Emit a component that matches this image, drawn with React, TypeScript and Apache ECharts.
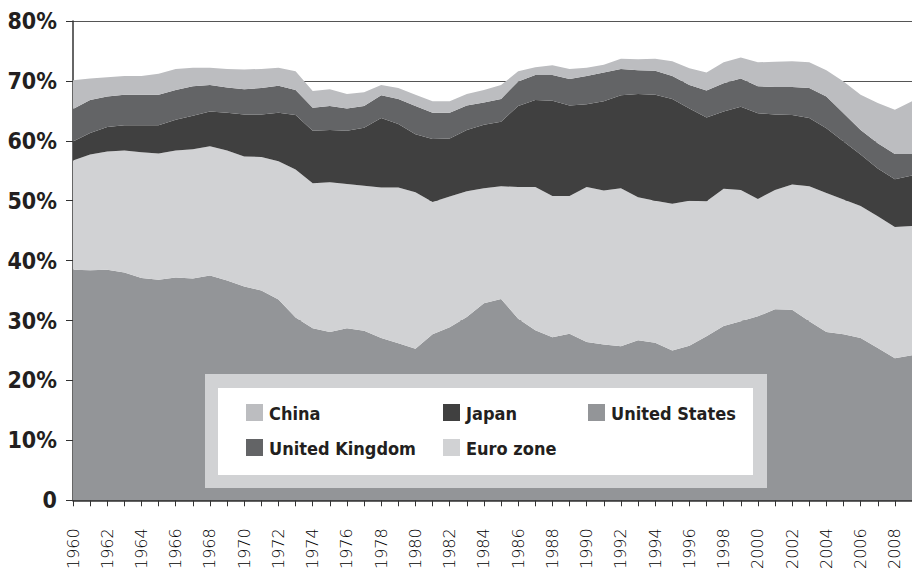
import React, { useEffect, useRef } from "react";
import * as echarts from "echarts";

const years: string[] = [];
for (let y = 1960; y <= 2009; y++) years.push(String(y));

const seriesNames = ["United States", "Euro zone", "Japan", "United Kingdom", "China"];
const seriesColors = ["#939598", "#d1d2d4", "#404040", "#636466", "#bcbdc0"];

const unitedStates = [
  38.5, 38.4, 38.5, 38.0, 37.1, 36.8, 37.2, 37.0, 37.5, 36.7,
  35.7, 35.0, 33.5, 30.5, 28.7, 28.1, 28.7, 28.3, 27.1, 26.2,
  25.3, 27.7, 28.9, 30.6, 32.9, 33.6, 30.3, 28.4, 27.2, 27.8,
  26.4, 26.0, 25.7, 26.7, 26.3, 25.0, 25.8, 27.4, 29.1, 29.9,
  30.7, 31.9, 31.8, 29.9, 28.1, 27.7, 27.1, 25.4, 23.7, 24.2,
];
const euroZone = [
  18.2, 19.3, 19.7, 20.4, 21.0, 21.1, 21.2, 21.6, 21.6, 21.7,
  21.7, 22.3, 23.1, 24.7, 24.2, 25.0, 24.1, 24.2, 25.1, 26.0,
  26.1, 22.1, 21.8, 21.0, 19.2, 18.8, 22.0, 23.9, 23.6, 23.0,
  25.9, 25.7, 26.4, 23.9, 23.7, 24.5, 24.2, 22.5, 22.9, 21.9,
  19.6, 19.9, 20.9, 22.5, 23.2, 22.5, 22.0, 22.0, 21.9, 21.6,
];
const japan = [
  3.2, 3.6, 4.1, 4.2, 4.5, 4.7, 5.1, 5.6, 5.8, 6.3,
  7.0, 7.1, 8.1, 9.1, 8.8, 8.7, 8.9, 9.7, 11.6, 10.6,
  9.7, 10.5, 9.7, 10.2, 10.6, 10.8, 13.5, 14.5, 15.9, 15.1,
  13.8, 14.9, 15.5, 17.2, 17.7, 17.5, 15.4, 14.0, 12.9, 13.9,
  14.3, 12.6, 11.6, 11.4, 10.8, 9.7, 8.6, 8.0, 8.0, 8.4,
];
const unitedKingdom = [
  5.4, 5.5, 5.1, 5.1, 5.1, 5.1, 5.0, 4.9, 4.4, 4.2,
  4.2, 4.4, 4.5, 4.2, 3.8, 4.0, 3.7, 3.6, 3.8, 4.2,
  4.7, 4.4, 4.3, 4.1, 3.7, 3.8, 4.1, 4.2, 4.3, 4.4,
  4.7, 4.8, 4.4, 4.0, 4.0, 3.8, 3.9, 4.5, 4.7, 4.7,
  4.5, 4.6, 4.7, 5.0, 5.3, 4.7, 4.1, 4.2, 4.2, 3.6,
];
const china = [
  4.8, 3.6, 3.2, 3.1, 3.1, 3.5, 3.5, 3.1, 2.9, 3.1,
  3.3, 3.2, 3.0, 3.1, 2.8, 2.8, 2.4, 2.3, 1.7, 1.8,
  1.9, 1.9, 1.9, 1.9, 2.1, 2.3, 1.7, 1.3, 1.6, 1.7,
  1.4, 1.3, 1.7, 1.8, 2.0, 2.5, 2.8, 3.0, 3.5, 3.5,
  4.0, 4.2, 4.3, 4.3, 4.4, 5.3, 5.9, 6.7, 7.4, 8.8,
];

const yTicks = [0, 10, 20, 30, 40, 50, 60, 70, 80];

const seriesValues = [unitedStates, euroZone, japan, unitedKingdom, china];

// legend layout: rows of names, as in the reference
const legendRows = [
  ["China", "Japan", "United States"],
  ["United Kingdom", "Euro zone"],
];

const FONT = "'DejaVu Sans Condensed', 'DejaVu Sans', sans-serif";

export default function App() {
  const ref = useRef<HTMLDivElement>(null);
  useEffect(() => {
    if (!ref.current) return;
    const chart = echarts.init(ref.current, undefined, { renderer: "svg" });
    const colLefts = [246, 443, 588];
    const rowTops = [404, 439];
    const colorOf = (name: string) => seriesColors[seriesNames.indexOf(name)];
    const children: any[] = [
      {
        type: "rect",
        z: 10,
        z2: 1,
        shape: { x: 205, y: 374, width: 562, height: 114 },
        style: { fill: "rgb(209,210,212)" },
      },
      {
        type: "rect",
        z: 10,
        z2: 2,
        shape: { x: 218, y: 388, width: 535, height: 87 },
        style: { fill: "#ffffff" },
      },
    ];
    legendRows.forEach((row, r) => {
      row.forEach((name, c) => {
        children.push({
          type: "rect",
          z: 10,
          z2: 3,
          shape: { x: colLefts[c], y: rowTops[r], width: 17, height: 17 },
          style: { fill: colorOf(name) },
        });
        children.push({
          type: "text",
          z: 10,
          z2: 3,
          x: colLefts[c] + 23,
          y: rowTops[r] + 9,
          style: {
            text: name,
            fill: "#231f20",
            font: "bold 18px " + FONT,
            verticalAlign: "middle",
            align: "left",
          },
        });
      });
    });
    chart.setOption({
      animation: false,
      backgroundColor: "#ffffff",
      grid: { left: 73, top: 21, right: -7, bottom: 71 },
      xAxis: {
        type: "category",
        data: years,
        boundaryGap: false,
        axisLine: { show: true, lineStyle: { color: "#333333", width: 1.5 } },
        axisTick: { show: true, interval: 0, length: 6, lineStyle: { color: "#333333" } },
        splitLine: { show: false },
        axisLabel: {
          interval: 1,
          rotate: 90,
          margin: 28,
          fontFamily: "'DejaVu Sans', sans-serif",
          fontWeight: 200,
          fontSize: 16,
          color: "#000000",
        },
      },
      yAxis: {
        type: "value",
        min: yTicks[0],
        max: yTicks[yTicks.length - 1],
        interval: 10,
        axisLine: { show: true, lineStyle: { color: "#333333", width: 1.5 } },
        axisTick: { show: true, length: 7, lineStyle: { color: "#333333" } },
        splitLine: { show: true, lineStyle: { color: "#555555", width: 1 } },
        axisLabel: {
          margin: 16,
          fontFamily: FONT,
          fontWeight: "bold",
          fontSize: 23,
          color: "#231f20",
          formatter: (v: number) => (v === 0 ? "0" : v + "%"),
        },
      },
      graphic: [
        {
          type: "group",
          z: 10,
          children,
        },
      ],
      series: seriesNames.map((name, i) => ({
        name,
        type: "line",
        stack: "total",
        showSymbol: false,
        symbol: "none",
        color: seriesColors[i],
        itemStyle: { color: seriesColors[i] },
        lineStyle: { width: 0 },
        areaStyle: { color: seriesColors[i], opacity: 1 },
        data: seriesValues[i],
      })),
    });
    return () => chart.dispose();
  }, []);
  return (
    <div
      ref={ref}
      style={{ position: "absolute", left: 0, top: 0, width: 912, height: 572 }}
    />
  );
}
